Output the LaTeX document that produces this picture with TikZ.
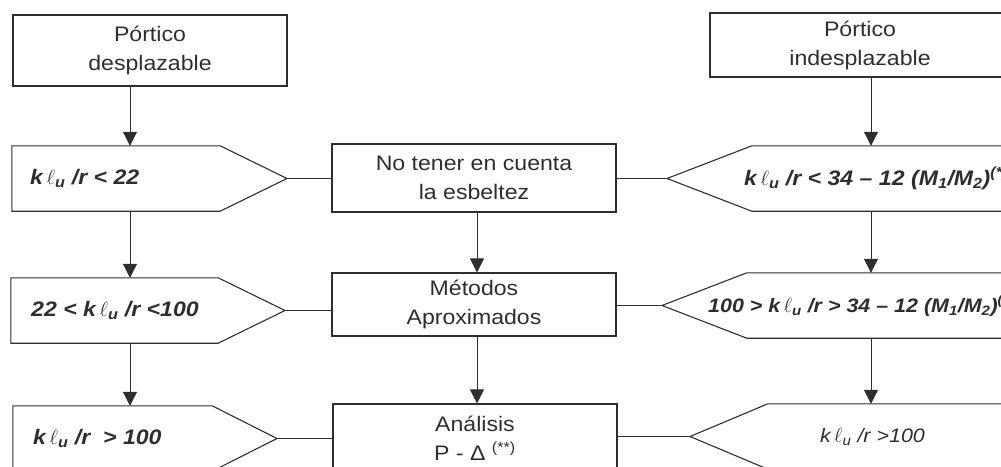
\documentclass[tikz,border=0pt]{standalone}
\usepackage{fontspec}
\setmainfont{Liberation Sans}
\newfontfamily\scanfont[FakeStretch=1.1]{Liberation Sans}
\usetikzlibrary{arrows.meta,calc}
\definecolor{ink}{HTML}{2E2E2E}
\newcommand{\klu}{k\,$\ell$\textsubscript{u} /r}
\tikzset{
	box/.style={draw=ink, line width=1.1pt, align=center, inner sep=0pt, text=ink,
		font=\scanfont\fontsize{21}{29}\selectfont},
	frame/.style={inner sep=0pt},
	cond/.style={anchor=west, inner sep=0pt, text=ink,
		font=\scanfont\bfseries\itshape\fontsize{21}{24}\selectfont},
	small/.style={font=\scanfont\bfseries\itshape\fontsize{19.5}{24}\selectfont},
	pent/.style={draw=ink, line width=1.1pt, line join=miter},
	link/.style={draw=ink, line width=1pt},
	arr/.style={link, -{Triangle[length=14pt,width=14pt]}}
}

\begin{document}
\begin{tikzpicture}[x=1pt,y=-1pt]
	\useasboundingbox (0,0) rectangle (1001,466);
	\clip (0,0) rectangle (1001,466);
	\coordinate (cl) at (130,0);
	\coordinate (cm) at (477,0);
	\coordinate (cr) at (871,0);

	\node[box, minimum width=274, minimum height=71] (A) at (150,50.5) {Pórtico\\desplazable};
	\node[box, minimum width=300, minimum height=64] (B) at (860,45) {Pórtico\\indesplazable};

	\node[box, minimum width=284, minimum height=68] (m1) at (474,178) {No tener en cuenta\\la esbeltez};
	\node[box, minimum width=284, minimum height=63] (m2) at (474,304.5) {Métodos\\Aproximados};
	\node[box, minimum width=284, minimum height=68] (m3) at (475,438) {Análisis\\P - Δ \textsuperscript{(**)}};

	\node[frame, minimum width=208, minimum height=65] (l1) at (116,178.5) {};
	\node[frame, minimum width=207, minimum height=65] (l2) at (114.5,310.5) {};
	\node[frame, minimum width=199, minimum height=65] (l3) at (112.5,438.5) {};
	\coordinate (l1t) at (287,178.5);
	\coordinate (l2t) at (285,310.5);
	\coordinate (l3t) at (277,438.5);
	\draw[pent] (l1.north west) -- (l1.north east) -- (l1t) -- (l1.south east) -- (l1.south west) -- cycle;
	\draw[pent] (l2.north west) -- (l2.north east) -- (l2t) -- (l2.south east) -- (l2.south west) -- cycle;
	\draw[pent] (l3.north west) -- (l3.north east) -- (l3t) -- (l3.south east) -- (l3.south west) -- cycle;

	\node[frame, minimum width=300, minimum height=65] (r1) at (902,178.5) {};
	\node[frame, minimum width=300, minimum height=65] (r2) at (897,305.5) {};
	\node[frame, minimum width=300, minimum height=65] (r3) at (918,436.5) {};
	\coordinate (r1t) at (667,178.5);
	\coordinate (r2t) at (662,305.5);
	\coordinate (r3t) at (690,436.5);
	\draw[pent] (r1.north east) -- (r1.north west) -- (r1t) -- (r1.south west) -- (r1.south east);
	\draw[pent] (r2.north east) -- (r2.north west) -- (r2t) -- (r2.south west) -- (r2.south east);
	\draw[pent] (r3.north east) -- (r3.north west) -- (r3t) -- (r3.south west) -- (r3.south east);

	\node[cond] (c1) at (30,178.5) {\klu{} < 22};
	\node[cond] (c2) at (31,310.5) {22 < \klu{} <100};
	\node[cond] (c3) at (33,438.5) {\klu{} \ > 100};
	\node[cond] (c4) at (744,178.5) {\klu{} < 34 – 12 (M\textsubscript{1}/M\textsubscript{2})\textsuperscript{(*)}};
	\node[cond, small] (c5) at (708,305.5) {100 > \klu{} > 34 – 12 (M\textsubscript{1}/M\textsubscript{2})\textsuperscript{(*)}};
	\node[cond, font=\scanfont\itshape\fontsize{19.5}{24}\selectfont] (c6) at (820,436.5) {\klu{} >100};

	\draw[arr] (A.south -| cl) -- (l1.north -| cl);
	\draw[arr] (l1.south -| cl) -- (l2.north -| cl);
	\draw[arr] (l2.south -| cl) -- (l3.north -| cl);
	\draw[arr] (m1.south -| cm) -- (m2.north -| cm);
	\draw[arr] (m2.south -| cm) -- (m3.north -| cm);
	\draw[arr] (B.south -| cr) -- (r1.north -| cr);
	\draw[arr] (r1.south -| cr) -- (r2.north -| cr);
	\draw[arr] (r2.south -| cr) -- (r3.north -| cr);

	\draw[link] (l1t) -- (l1t -| m1.west);
	\draw[link] (l2t) -- (l2t -| m2.west);
	\draw[link] (l3t) -- (l3t -| m3.west);
	\draw[link] (r1t) -- (r1t -| m1.east);
	\draw[link] (r2t) -- (r2t -| m2.east);
	\draw[link] (r3t) -- (r3t -| m3.east);
\end{tikzpicture}
\end{document}
